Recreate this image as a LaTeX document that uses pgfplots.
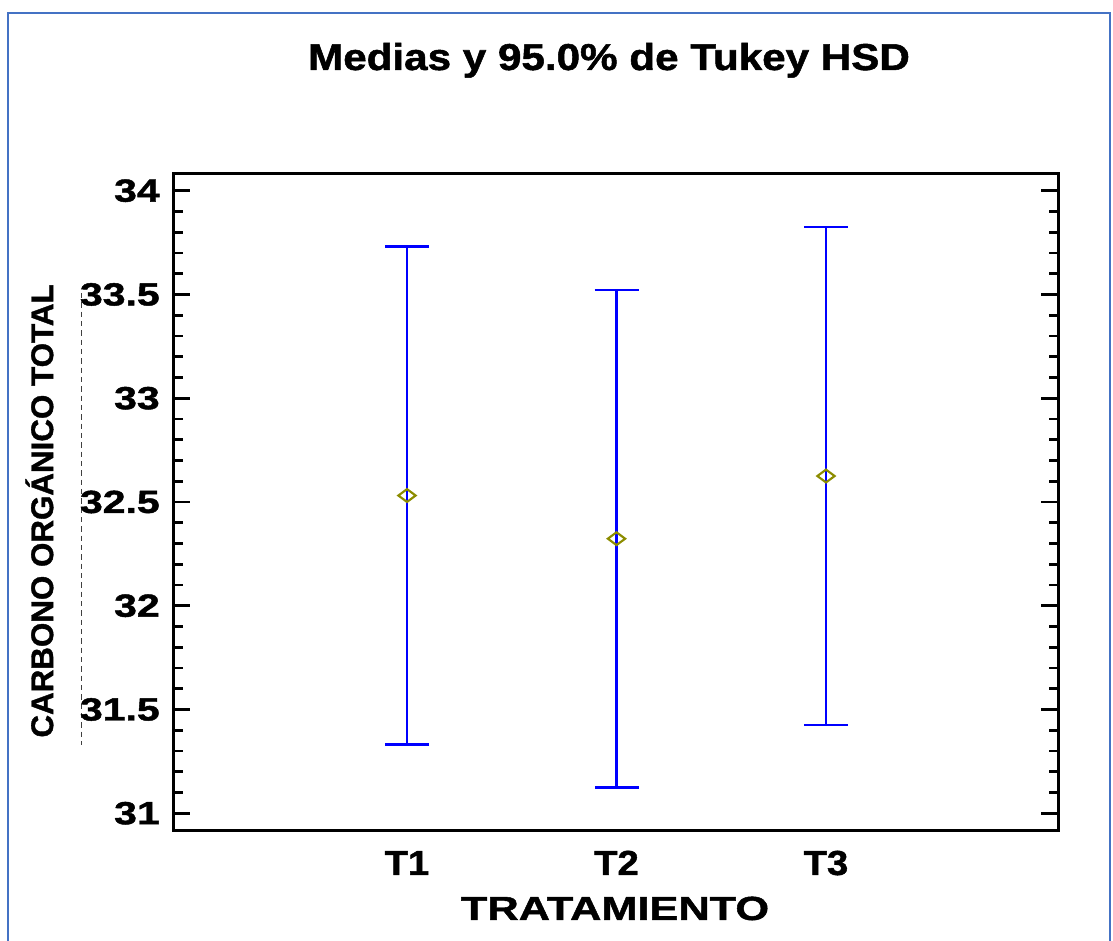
\documentclass[border=0pt]{standalone}
\usepackage{pgfplots}
\pgfplotsset{compat=1.18}
\usepackage{fontspec}
\setmainfont{Liberation Sans}
\newfontfamily\titlefont[FakeStretch=1.13, FakeBold=1.4]{Liberation Sans}
\newfontfamily\tickfont[FakeStretch=1.28, FakeBold=1.4]{Liberation Sans}
\newfontfamily\xtickfont[FakeStretch=1.1, FakeBold=1.4]{Liberation Sans}
\newfontfamily\xlabfont[FakeStretch=1.3, FakeBold=1.4]{Liberation Sans}
\newfontfamily\ylabfont[FakeBold=1.2]{Liberation Sans}
\definecolor{framebl}{RGB}{68,114,196}
\definecolor{meanol}{RGB}{140,140,0}
\begin{document}
\begin{tikzpicture}
\useasboundingbox (0,0) rectangle (834.75pt,705pt);
\draw[framebl, line width=1.2pt] (6pt,-5pt) -- (6pt,695.25pt) -- (832.5pt,695.25pt) -- (832.5pt,-5pt);
\draw[black!75, line width=0.6pt, dash pattern=on 4pt off 3pt] (61.3pt,485.25pt) -- (61.3pt,146.25pt);
\begin{axis}[
  at={(130pt,82pt)}, anchor=south west,
  scale only axis, width=663.75pt, height=493.05pt,
  xmin=-0.1155, xmax=4.109, ymin=30.916, ymax=34.084,
  xtick={1,2,3}, xticklabels={T1,T2,T3},
  xtick style={draw=none},
  ytick={31,31.5,32,32.5,33,33.5,34}, minor y tick num=4,
  ytick pos=both, yticklabel pos=left,
  tick align=inside,
  major tick length=12.75pt, minor tick length=7pt,
  ytick style={line width=2pt, black},
  minor tick style={line width=2pt, black},
  axis line style={line width=2.25pt},
  /pgf/number format/assume math mode=true,
  yticklabel style={font=\tickfont\bfseries\fontsize{24}{28}\selectfont, anchor=east, inner sep=0pt, xshift=-10pt},
  xticklabel style={font=\xtickfont\bfseries\fontsize{26}{30}\selectfont, anchor=base, inner sep=0pt, yshift=-33.2pt},
  title={Medias y 95.0\% de Tukey HSD},
  title style={font=\titlefont\bfseries\fontsize{28}{32}\selectfont, at={(axis description cs:0.4923,1.1571)}, anchor=base, inner sep=0pt, yshift=-6pt},
  xlabel={TRATAMIENTO},
  xlabel style={font=\xlabfont\bfseries\fontsize{25}{30}\selectfont, at={(axis description cs:0.4991,-0.1358)}, anchor=base, inner sep=0pt},
  ylabel={CARBONO ORGÁNICO TOTAL},
  ylabel style={font=\ylabfont\bfseries\fontsize{23.5}{28}\selectfont, at={(axis description cs:-0.1359,0.4863)}, anchor=base, inner sep=0pt},
]
\addplot[only marks, mark=diamond, mark size=4.8pt,
  mark options={meanol, line width=1.6pt, xscale=1.8, fill=none},
  error bars/.cd, y dir=both, y explicit,
  error bar style={blue, line width=2pt},
  error mark options={rotate=90, blue, line width=2pt, mark size=16.5pt}]
  coordinates {
    (1,32.531) +- (0,1.199)
    (2,32.323) +- (0,1.198)
    (3,32.625) +- (0,1.200)
  };
\end{axis}
\end{tikzpicture}
\end{document}
